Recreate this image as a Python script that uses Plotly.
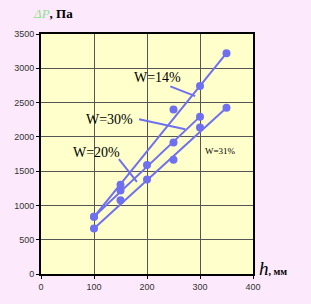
import plotly.graph_objects as go

# Measured data points (h, mm ; ΔP, Pa)
h_w14 = [100, 150, 250, 300, 350]
dp_w14 = [834, 1300, 2400, 2740, 3220]

h_w30 = [100, 150, 200, 250, 300]
dp_w30 = [834, 1219, 1591, 1919, 2295]

h_w31 = [100, 150, 200, 250, 300, 350]
dp_w31 = [665, 1074, 1378, 1667, 2136, 2425]

# Trend lines (end points)
trend_w14_h = [100, 350]
trend_w14_dp = [834, 3220]
trend_w30_h = [100, 300]
trend_w30_dp = [834, 2295]
trend_w31_h = [100, 350]
trend_w31_dp = [665, 2425]

x_ticks = [0, 100, 200, 300, 400]
y_ticks = [0, 500, 1000, 1500, 2000, 2500, 3000, 3500]

BLUE = "#6F6FF2"

fig = go.Figure()
for th, tdp in [(trend_w14_h, trend_w14_dp), (trend_w30_h, trend_w30_dp), (trend_w31_h, trend_w31_dp)]:
    fig.add_trace(go.Scatter(x=th, y=tdp, mode="lines", line=dict(color=BLUE, width=2),
                             hoverinfo="skip", showlegend=False))
for hh, dd in [(h_w14, dp_w14), (h_w30, dp_w30), (h_w31, dp_w31)]:
    fig.add_trace(go.Scatter(x=hh, y=dd, mode="markers", marker=dict(color=BLUE, size=8),
                             showlegend=False))

# label pointers
pointers = [
    ((244, 2737), (291, 2593)),
    ((185, 2256), (272, 2111)),
    ((147, 1677), (181, 1345)),
]
for (x0, y0), (x1, y1) in pointers:
    fig.add_shape(type="line", x0=x0, y0=y0, x1=x1, y1=y1, xref="x", yref="y",
                  line=dict(color=BLUE, width=2))

serif = "Liberation Serif"
labels = [
    ("W=14%", 219, 2863, 14),
    ("W=30%", 129, 2246, 14),
    ("W=20%", 105, 1779, 14),
    ("W=31%", 338, 1797, 9),
]
for txt, x, y, s in labels:
    fig.add_annotation(x=x, y=y, text=txt, showarrow=False, xref="x", yref="y",
                       font=dict(family=serif, size=s, color="black"))

# plot area: x 41..253, y 34..276 px
def px(xp, yp):
    return (xp - 41) / 212, (276 - yp) / 242

ax, ay = px(31, 13)
fig.add_annotation(
    x=ax, y=ay, xref="paper", yref="paper", xanchor="left", yanchor="middle",
    text="<i><span style='color:#8fe08f'>ΔP</span></i><b>, Па</b>", showarrow=False,
    font=dict(family=serif, size=13, color="black"))
bx, by = px(257, 270)
fig.add_annotation(
    x=bx, y=by, xref="paper", yref="paper", xanchor="left", yanchor="middle",
    text="<i>h</i><b><span style='font-size:10px'>, мм</span></b>", showarrow=False,
    font=dict(family=serif, size=19, color="black"))

fig.update_layout(
    width=311, height=304,
    margin=dict(l=41, r=58, t=34, b=28),
    paper_bgcolor="#FCEAFC",
    plot_bgcolor="#FFFFCC",
    showlegend=False,
)
fig.update_xaxes(range=[0, 400], tickvals=x_ticks, ticktext=[str(v) for v in x_ticks],
                 showgrid=True, gridcolor="#555555", gridwidth=1,
                 showline=True, linecolor="black", linewidth=2, mirror=True,
                 ticks="outside", ticklen=3, tickcolor="black", zeroline=False,
                 tickfont=dict(family="Liberation Sans", size=9, color="#333333"))
fig.update_yaxes(range=[0, 3500], tickvals=y_ticks, ticktext=[str(v) for v in y_ticks],
                 showgrid=True, gridcolor="#555555", gridwidth=1,
                 showline=True, linecolor="black", linewidth=2, mirror=True,
                 ticks="outside", ticklen=3, tickcolor="black", zeroline=False,
                 tickfont=dict(family="Liberation Sans", size=9, color="#333333"))

fig.write_html("out.html")
